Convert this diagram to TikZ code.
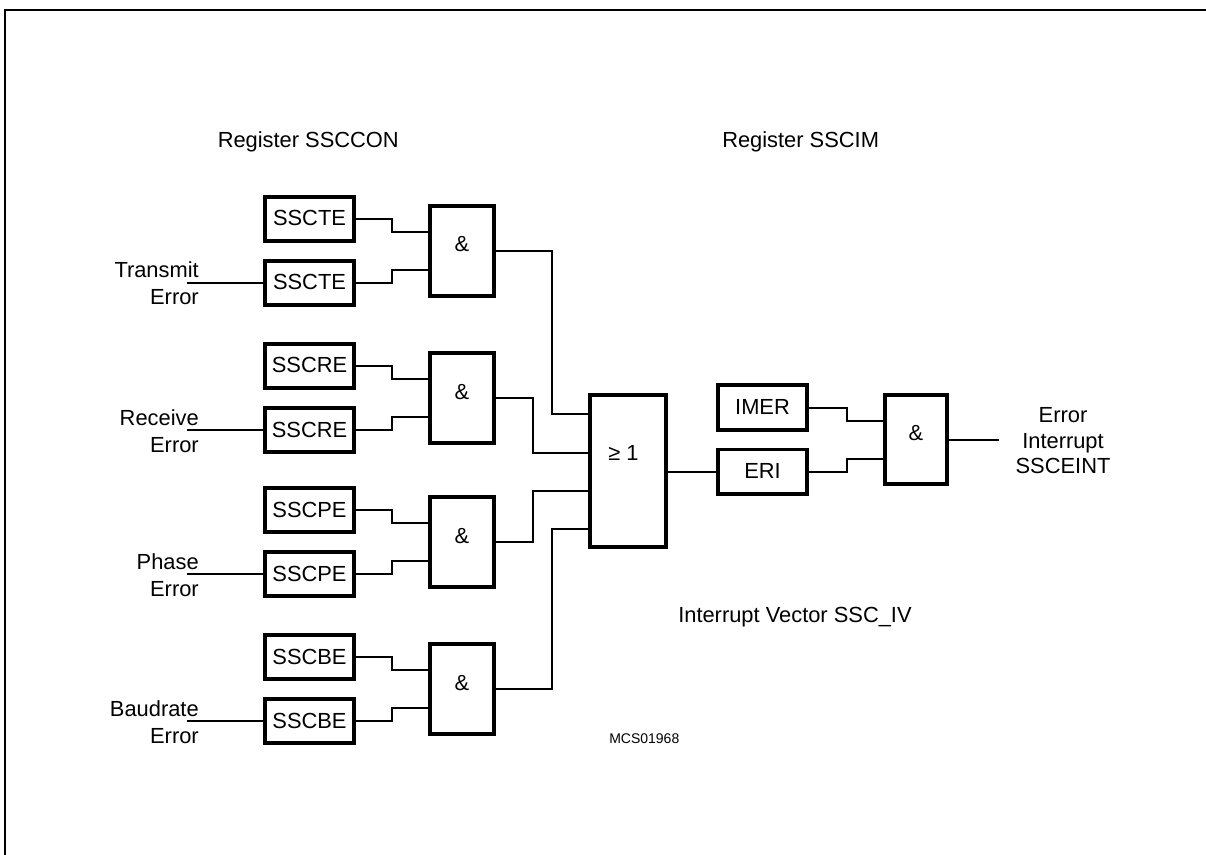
\documentclass[tikz,border=0pt]{standalone}
\usepackage{fontspec}
\setmainfont{Liberation Sans}
\usetikzlibrary{calc}
\tikzset{
  x=0.75pt,y=-0.75pt,
  every node/.style={inner sep=0pt,font=\fontsize{16.4}{20}\selectfont},
  reg/.style={draw,line width=2.8pt,minimum width=67pt,minimum height=33.2pt,text height=11pt,text depth=0.5pt},
  andgate/.style={draw,line width=2.8pt,minimum width=48.2pt,minimum height=67.7pt,text height=6.25pt,text depth=4.75pt},
  orgate/.style={draw,line width=2.8pt,minimum width=57.2pt,minimum height=114.2pt},
  wire/.style={line width=1.5pt},
  frameline/.style={line width=1.5pt},
  caption/.style={anchor=base west},
  inlabel/.style={anchor=base east},
  outlabel/.style={anchor=base},
}
\begin{document}
\begin{tikzpicture}
\path[use as bounding box] (0,0) rectangle (1206,855);
\clip (0,0) rectangle (1206,855);
\coordinate (fa) at (5,860);
\coordinate (fb) at (5,10);
\coordinate (fc) at (1210,10);
\draw[frameline] (fa) -- (fb) -- (fc);

\node[caption] (tcon) at (217.5,148) {Register SSCCON};
\node[caption] (tim) at (722,148) {Register SSCIM};
\node[caption] (tiv) at (678,622) {Interrupt Vector SSC\_IV};
\node[caption,font=\fontsize{10.5}{12}\selectfont] (tmcs) at (609,743) {MCS01968};

\node[orgate] (or) at (628,471) {};
\node[caption] (ortext) at (608,460) {≥ 1};

\foreach \n/\ya/\nm/\la/\pin in {1/219/SSCTE/Transmit/414,2/366/SSCRE/Receive/453,3/510/SSCPE/Phase/491,4/657/SSCBE/Baudrate/529}{
  \pgfmathsetmacro{\yb}{\ya+64}
  \pgfmathsetmacro{\yg}{\ya+32}
  \pgfmathsetmacro{\yl}{\ya+59}
  \pgfmathsetmacro{\ye}{\ya+86}
  \node[reg] (a\n) at (309.5,\ya) {\nm};
  \node[reg] (b\n) at (309.5,\yb) {\nm};
  \node[andgate] (g\n) at (462,\yg) {\&};
  \node[inlabel] (l\n) at (199,\yl) {\la};
  \node[inlabel] (e\n) at (199,\ye) {Error};
  \coordinate (in\n) at (187,\yb);
  \coordinate (ga\n) at ($(g\n.west)+(0,-19)$);
  \coordinate (gb\n) at ($(g\n.west)+(0,19)$);
  \coordinate (p\n) at (or.west |- 0,\pin);
  \draw[wire] (in\n) -- (b\n.west);
  \draw[wire] (a\n.east) -- ++(36,0) |- (ga\n);
  \draw[wire] (b\n.east) -- ++(36,0) |- (gb\n);
}
\draw[wire] (g1.east) -- ++(56,0) |- (p1);
\draw[wire] (g2.east) -- ++(37,0) |- (p2);
\draw[wire] (g3.east) -- ++(37,0) |- (p3);
\draw[wire] (g4.east) -- ++(56,0) |- (p4);

\node[reg] (imer) at (762.5,407.5) {IMER};
\node[reg] (eri) at (762.5,471.5) {ERI};
\node[andgate,minimum width=46.7pt,minimum height=66.7pt] (h) at (916,439.5) {\&};
\coordinate (ha) at ($(h.west)+(0,-19)$);
\coordinate (hb) at ($(h.west)+(0,19)$);
\coordinate (hout) at (999,439.5);
\draw[wire] (or.east |- eri.west) -- (eri.west);
\draw[wire] (imer.east) -- ++(38,0) |- (ha);
\draw[wire] (eri.east) -- ++(38,0) |- (hb);
\draw[wire] (h.east) -- (hout);

\node[outlabel] (o1) at (1063,422) {Error};
\node[outlabel] (o2) at (1063,448) {Interrupt};
\node[outlabel] (o3) at (1063,473) {SSCEINT};
\end{tikzpicture}
\end{document}
